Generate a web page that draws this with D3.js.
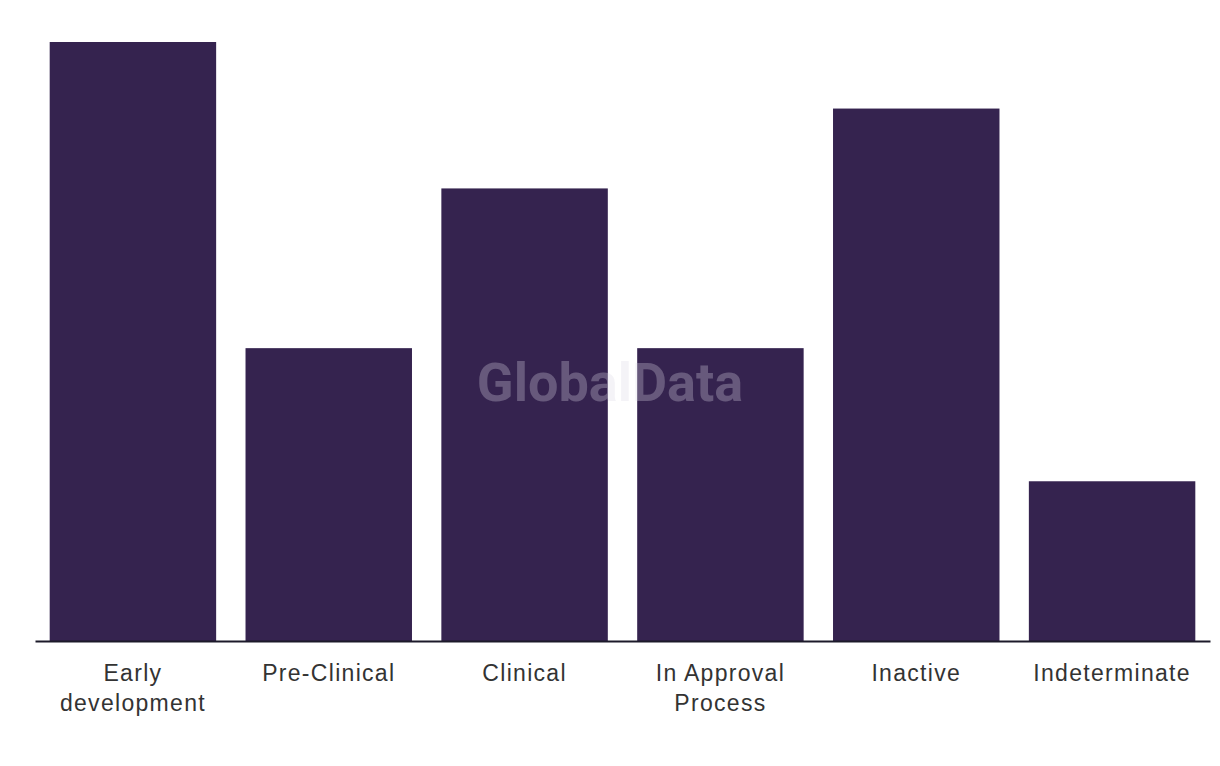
<!DOCTYPE html>
<html>
<head>
<meta charset="utf-8">
<script src="https://cdn.jsdelivr.net/npm/d3@7"></script>
<style>
  body { margin: 0; background: #fff; }
  svg { display: block; font-family: "Liberation Sans", Arial, sans-serif; }
</style>
</head>
<body>
<svg id="chart" width="1220" height="766"></svg>
<script>
// chart data
let categories = ["Early development", "Pre-Clinical", "Clinical", "In Approval Process", "Inactive", "Indeterminate"];
let labelLines = [["Early", "development"], ["Pre-Clinical"], ["Clinical"], ["In Approval", "Process"], ["Inactive"], ["Indeterminate"]];
let values = [45, 22, 34, 22, 40, 12];

let svg = d3.select("#chart");
let margin = {top: 42, right: 10, bottom: 125, left: 35};
let width = 1220 - margin.left - margin.right;
let height = 766 - margin.top - margin.bottom;

let x = d3.scaleBand()
    .domain(categories)
    .range([0, width])
    .paddingInner(0.15)
    .paddingOuter(0.075);

let y = d3.scaleLinear()
    .domain([0, d3.max(values)])
    .range([height, 0]);

let g = svg.append("g")
    .attr("transform", "translate(" + margin.left + "," + margin.top + ")");

g.selectAll(".bar")
    .data(values)
    .enter().append("rect")
    .attr("class", "bar")
    .attr("x", (d, i) => x(categories[i]))
    .attr("width", x.bandwidth())
    .attr("y", d => y(d))
    .attr("height", d => height - y(d))
    .attr("fill", "#35234f");

// watermark
svg.append("text")
    .attr("x", 610)
    .attr("y", 401)
    .attr("text-anchor", "middle")
    .attr("font-family", "Roboto, sans-serif")
    .attr("font-size", 54)
    .attr("font-weight", "bold")
    .attr("fill", "#dcd8e4")
    .attr("fill-opacity", 0.3)
    .text("GlobalData");

let xAxis = d3.axisBottom(x).tickSize(0).tickFormat("");
let axisG = g.append("g")
    .attr("class", "x-axis")
    .attr("transform", "translate(0," + height + ")")
    .call(xAxis);
axisG.select(".domain").attr("stroke", "#1c1a2a").attr("stroke-width", 2);

axisG.selectAll(".tick").each(function (d, i) {
    let t = d3.select(this).append("text")
        .attr("fill", "#333")
        .attr("font-size", 23)
        .attr("letter-spacing", 1.3)
        .attr("text-anchor", "middle");
    labelLines[i].forEach((line, j) => {
        t.append("tspan")
            .attr("x", 0)
            .attr("y", 40 + j * 30)
            .text(line);
    });
});
</script>
</body>
</html>
